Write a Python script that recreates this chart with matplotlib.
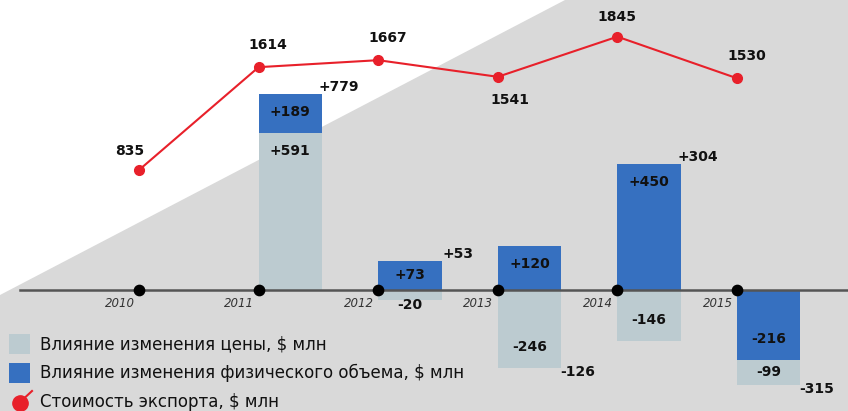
import numpy as np
import matplotlib.pyplot as plt
from matplotlib.patches import Polygon, Rectangle
from matplotlib.lines import Line2D

years = ['2010', '2011', '2012', '2013', '2014', '2015']
export_value = [835, 1614, 1667, 1541, 1845, 1530]

# factor decomposition of the yearly change (2011..2015)
bar_years = [1, 2, 3, 4, 5]
price_effect = [591, -20, -246, -146, -99]
volume_effect = [189, 73, 120, 450, -216]
total_change = [779, 53, -126, 304, -315]

c_price = '#bccbd0'
c_volume = '#3670c0'
c_red = '#e8202a'
c_bg = '#d9d9d9'

W, H = 848, 411
plt.rcParams['font.family'] = ['DejaVu Sans']
fig = plt.figure(figsize=(W / 100, H / 100), dpi=100)

step = 119.6
x0 = 139
xlim = (-x0 / step, (W - x0) / step)

# the source chart compresses bar heights a bit, a mild power scale mimics that
a = 0.8


def fwd(y):
    y = np.asarray(y, dtype=float)
    return np.sign(y) * np.abs(y) ** a


def inv(y):
    y = np.asarray(y, dtype=float)
    return np.sign(y) * np.abs(y) ** (1 / a)


k = 0.95  # px per scaled unit
base = H - 290

ax = fig.add_axes([0, 0, 1, 1])
ax.patch.set_alpha(0)
ax.set_yscale('function', functions=(fwd, inv))
ax.set_xlim(*xlim)
ax.set_ylim(float(inv(-base / k)), float(inv((H - base) / k)))
ax.axis('off')

# diagonal grey background
ax.add_patch(Polygon([(0, 1 - 295 / H), (565 / W, 1), (1, 1), (1, 0), (0, 0)],
                     closed=True, transform=ax.transAxes, facecolor=c_bg,
                     edgecolor='none', zorder=0))

bw = 0.53
num_font = dict(fontsize=10, fontweight='semibold', color='#111111')
for i, x in enumerate(bar_years):
    p, v = price_effect[i], volume_effect[i]
    pos, neg = 0, 0
    segs = []
    # positives: price first then volume; negatives: volume first then price
    for val, col in [(p, c_price), (v, c_volume)]:
        if val > 0:
            segs.append((pos, val, col))
            pos += val
    for val, col in [(v, c_volume), (p, c_price)]:
        if val < 0:
            segs.append((neg, val, col))
            neg += val
    for bottom, val, col in segs:
        ax.bar(x, val, bottom=bottom, width=bw, align='edge', color=col, zorder=2)
        hpx = abs(float(fwd(bottom + val) - fwd(bottom))) * k
        xc = x + bw / 2
        if val > 0:
            off = -min(18, hpx / 2)
            ref_y = bottom + val
        else:
            off = min(21, hpx / 2)
            ref_y = bottom + val
            if hpx < 20:
                # tiny segment: keep label clear of the baseline
                off = -10 - hpx / 2 + hpx
        ax.annotate(f'{val:+d}', (xc, ref_y), xytext=(0, off * 0.72),
                    textcoords='offset points', ha='center', va='center', zorder=4, **num_font)
    t = total_change[i]
    end = pos if t > 0 else neg
    ax.annotate(f'{t:+d}', (x + bw, end), xytext=(12, 5 if t > 0 else -3),
                textcoords='offset points', ha='center', va='center', zorder=4, **num_font)

# baseline with year dots
ax.axhline(0, xmin=20 / W, xmax=1, color='#555555', lw=1.8, zorder=3)
xs = np.arange(len(years))
ax.scatter(xs, np.zeros(len(years)), s=55, color='black', zorder=5)
for x, y in zip(xs, years):
    ax.annotate(y, (x, 0), xytext=(-14, -10), textcoords='offset points', ha='center',
                va='center', fontsize=8.5, style='italic', color='#333333')

# export value line
ax2 = fig.add_axes([0, 0, 1, 1])
ax2.patch.set_alpha(0)
ax2.axis('off')
kl = 0.132
yv = H - 170
ax2.set_xlim(*xlim)
ax2.set_ylim(835 - yv / kl, 835 + (H - yv) / kl)
ax2.plot(xs, export_value, color=c_red, lw=1.5, marker='o', ms=7, zorder=3)
offs = [(-7, 14), (7, 16), (7, 16), (9, -17), (0, 14), (7, 16)]
for x, v, o in zip(xs, export_value, offs):
    ax2.annotate(str(v), (x, v), xytext=o, textcoords='offset points', ha='center',
                 va='center', **num_font)

# legend
leg = ['Влияние изменения цены, $ млн',
       'Влияние изменения физического объема, $ млн',
       'Стоимость экспорта, $ млн']
ys = [344, 373, 402]
for y, col in zip(ys[:2], [c_price, c_volume]):
    fig.add_artist(Rectangle((9 / W, 1 - (y + 10) / H), 21 / W, 20 / H,
                             transform=fig.transFigure, facecolor=col, edgecolor='none'))
fig.add_artist(Line2D([18 / W, 32 / W], [1 - 404 / H, 1 - 391 / H], color=c_red, lw=1.5,
                      transform=fig.transFigure))
fig.add_artist(Line2D([20 / W], [1 - 403 / H], marker='o', ms=11, color=c_red,
                      transform=fig.transFigure))
for y, t in zip(ys, leg):
    fig.text(40 / W, 1 - y / H, t, fontsize=12, va='center', ha='left', color='#111111')

fig.savefig('out.png', dpi=100)
